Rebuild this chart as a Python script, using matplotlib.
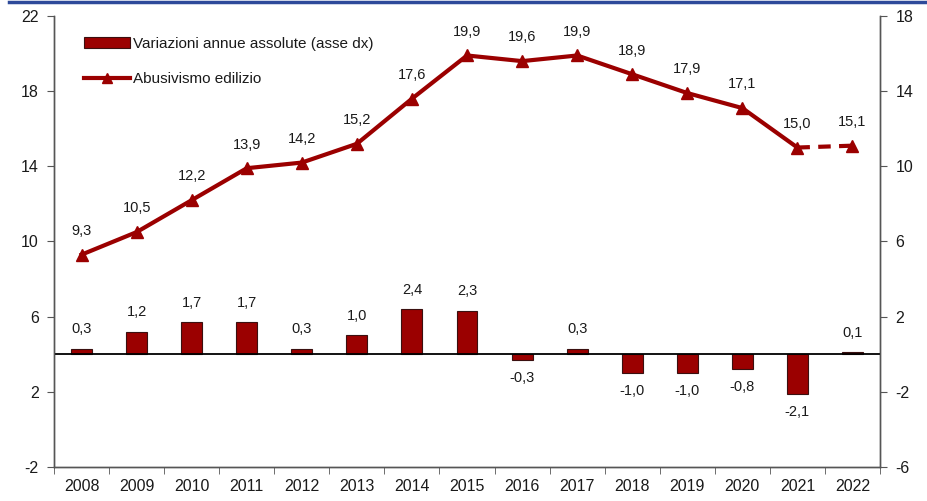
import matplotlib.pyplot as plt
from matplotlib.lines import Line2D
from matplotlib.patches import Patch
import numpy as np

years = ['2008', '2009', '2010', '2011', '2012', '2013', '2014', '2015',
         '2016', '2017', '2018', '2019', '2020', '2021', '2022']
abusivismo = [9.3, 10.5, 12.2, 13.9, 14.2, 15.2, 17.6, 19.9, 19.6, 19.9,
              18.9, 17.9, 17.1, 15.0, 15.1]
variazioni = [0.3, 1.2, 1.7, 1.7, 0.3, 1.0, 2.4, 2.3, -0.3, 0.3,
              -1.0, -1.0, -0.8, -2.1, 0.1]

red = '#9b0000'
txt = '#1a1a1a'
grey = '#555555'

plt.rcParams['font.family'] = ['Liberation Sans', 'DejaVu Sans']
plt.rcParams['axes.unicode_minus'] = False

fig = plt.figure(figsize=(9.27, 5.01), dpi=100)
ax = fig.add_axes([0.0583, 0.068, 0.8910, 0.900])
ax2 = ax.twinx()

x = np.arange(len(years))

# bars on the right axis
ax2.bar(x, variazioni, width=0.38, color=red, edgecolor='#3a1010', linewidth=0.8, zorder=2)
ax2.axhline(0, color='black', linewidth=1.3, zorder=3)
for xi, v in zip(x, variazioni):
    lab = f'{v:.1f}'.replace('.', ',')
    if v >= 0:
        ax2.annotate(lab, (xi, v), xytext=(0, 9), textcoords='offset points',
                     ha='center', va='bottom', fontsize=10.5, color=txt)
    else:
        ax2.annotate(lab, (xi, v), xytext=(0, -8), textcoords='offset points',
                     ha='center', va='top', fontsize=10.5, color=txt)

# line on the left axis
ax.set_zorder(ax2.get_zorder() + 1)
ax.patch.set_visible(False)
ax.plot(x[:-1], abusivismo[:-1], color=red, linewidth=3, marker='^', markersize=8.5, zorder=4)
ax.plot(x[-2:], abusivismo[-2:], color=red, linewidth=3, linestyle=(0, (3, 2)), zorder=4)
ax.plot(x[-1:], abusivismo[-1:], color=red, marker='^', markersize=8.5, linestyle='none', zorder=4)
for xi, v in zip(x, abusivismo):
    ax.annotate(f'{v:.1f}'.replace('.', ','), (xi, v), xytext=(0, 12), textcoords='offset points',
                ha='center', va='bottom', fontsize=10.5, color=txt)

ax.set_xlim(-0.5, len(years) - 0.5)
ax.set_ylim(-2, 22)
ax.set_yticks([-2, 2, 6, 10, 14, 18, 22])
ax2.set_ylim(-6, 18)
ax2.set_yticks([-6, -2, 2, 6, 10, 14, 18])

ax.set_xticks(x)
ax.set_xticklabels(years)
ax.set_xticks(np.arange(-0.5, len(years)), minor=True)
ax.tick_params(axis='x', which='major', length=0, pad=9, labelsize=11.5, labelcolor=txt)
ax.tick_params(axis='x', which='minor', length=5, color=grey, direction='out')
ax.tick_params(axis='y', length=5, color=grey, labelsize=11.5, labelcolor=txt, pad=6)
ax2.tick_params(axis='y', length=5, color=grey, labelsize=11.5, labelcolor=txt, pad=6)

for a in (ax, ax2):
    a.spines['top'].set_visible(False)
    for s in ('left', 'right', 'bottom'):
        a.spines[s].set_color(grey)
        a.spines[s].set_linewidth(1)

handles = [Patch(facecolor=red, edgecolor='#3a1010', linewidth=0.8),
           Line2D([0], [0], color=red, linewidth=3, marker='^', markersize=7)]
leg = ax.legend(handles, ['Variazioni annue assolute (asse dx)', 'Abusivismo edilizio'],
                loc='upper left', bbox_to_anchor=(0.02, 0.985), frameon=False,
                fontsize=11, handlelength=3, handletextpad=0.2, labelspacing=1.4,
                labelcolor=txt)

fig.add_artist(Line2D([0.01, 1.0], [0.997, 0.997], color='#2e4a9a', linewidth=2.5,
                      transform=fig.transFigure))

fig.savefig('out.png', dpi=100)
